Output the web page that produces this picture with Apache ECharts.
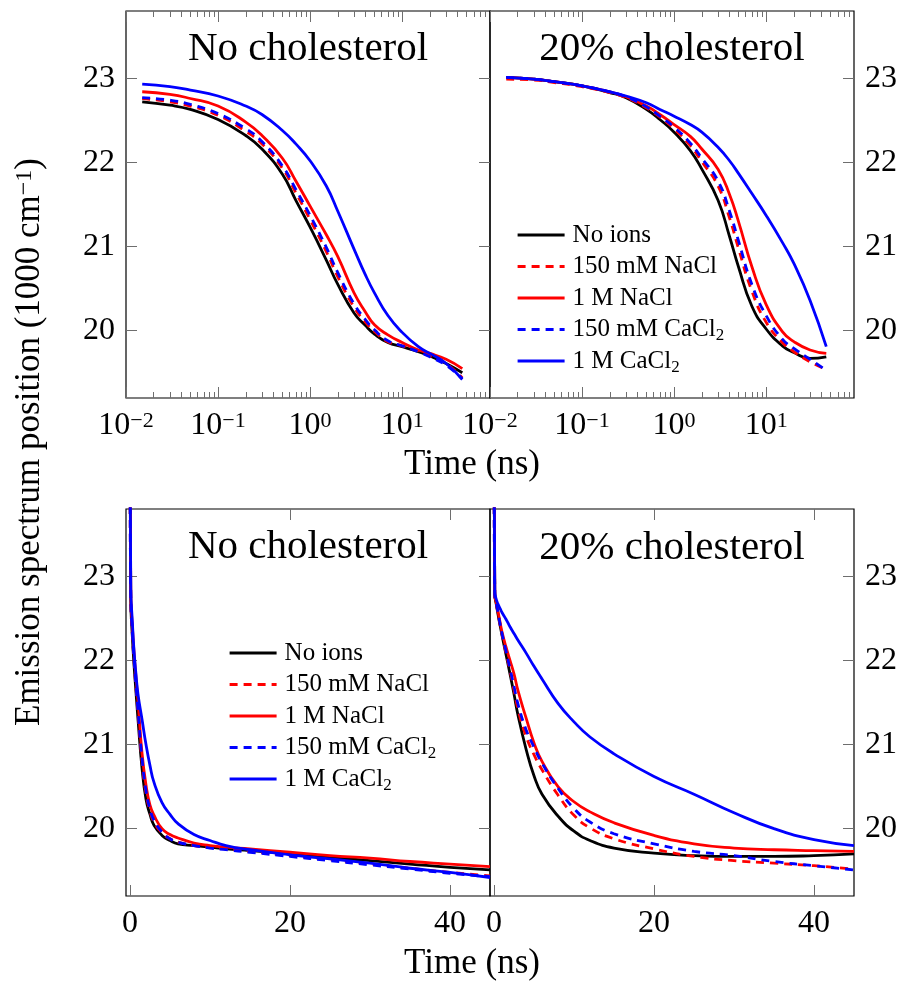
<!DOCTYPE html>
<html><head><meta charset="utf-8">
<script src="https://cdn.jsdelivr.net/npm/echarts@6/dist/echarts.min.js"></script>
<style>html,body{margin:0;padding:0;background:#fff}#c{width:901px;height:981px}</style>
</head><body><div id="c"></div>
<script>
// ---------------- data ----------------
const seriesNames = ['No ions', '150 mM NaCl', '1 M NaCl', '150 mM CaCl2', '1 M CaCl2'];
const panelTitles = ['No cholesterol', '20% cholesterol', 'No cholesterol', '20% cholesterol'];
const xAxisTitle = 'Time (ns)';
const yAxisTitle = 'Emission spectrum position (1000 cm{sup|\u22121})';

// time samples (ns) used in the logarithmic panels
const logTime = [0.015, 0.03, 0.05, 0.1, 0.2, 0.3, 0.5, 0.7, 1, 1.5, 2, 3, 4, 5, 7, 10, 15, 20, 30, 45];
// time samples (ns) used in the linear panels
const linTime = [0, 0.1, 0.3, 0.5, 0.75, 1, 1.5, 2, 2.5, 3, 4, 5, 6, 8, 10, 12, 15, 20, 25, 30, 35, 40, 45];

// top-left: no cholesterol, log time
const logNoCholNoIons   = [22.72, 22.68, 22.63, 22.51, 22.32, 22.16, 21.86, 21.55, 21.23, 20.84, 20.55, 20.21, 20.06, 19.96, 19.86, 19.81, 19.75, 19.70, 19.61, 19.50];
const logNoChol150NaCl  = [22.76, 22.72, 22.67, 22.56, 22.37, 22.22, 21.93, 21.64, 21.32, 20.94, 20.64, 20.28, 20.10, 19.99, 19.87, 19.82, 19.76, 19.70, 19.61, 19.44];
const logNoChol1NaCl    = [22.84, 22.81, 22.76, 22.67, 22.48, 22.32, 22.05, 21.78, 21.48, 21.14, 20.88, 20.45, 20.22, 20.07, 19.95, 19.86, 19.77, 19.73, 19.66, 19.55];
const logNoChol150CaCl2 = [22.77, 22.74, 22.69, 22.58, 22.40, 22.25, 21.96, 21.68, 21.37, 20.99, 20.69, 20.32, 20.13, 20.01, 19.88, 19.82, 19.75, 19.69, 19.59, 19.43];
const logNoChol1CaCl2   = [22.93, 22.90, 22.86, 22.79, 22.67, 22.57, 22.38, 22.22, 22.02, 21.72, 21.42, 20.97, 20.66, 20.45, 20.18, 19.98, 19.81, 19.73, 19.61, 19.42];

// top-right: 20% cholesterol, log time
const logCholNoIons   = [23.01, 22.99, 22.96, 22.91, 22.83, 22.77, 22.63, 22.51, 22.36, 22.14, 21.92, 21.55, 21.12, 20.76, 20.29, 20.02, 19.82, 19.74, 19.67, 19.69];
const logChol150NaCl  = [22.99, 22.98, 22.95, 22.90, 22.83, 22.77, 22.65, 22.54, 22.40, 22.20, 22.01, 21.72, 21.34, 20.98, 20.47, 20.10, 19.86, 19.75, 19.63, 19.54];
const logChol1NaCl    = [23.01, 22.99, 22.96, 22.91, 22.84, 22.78, 22.67, 22.57, 22.45, 22.31, 22.16, 21.92, 21.62, 21.30, 20.76, 20.31, 19.99, 19.87, 19.77, 19.73];
const logChol150CaCl2 = [23.01, 22.99, 22.96, 22.91, 22.84, 22.78, 22.66, 22.55, 22.42, 22.23, 22.05, 21.78, 21.42, 21.07, 20.55, 20.18, 19.90, 19.79, 19.66, 19.53];
const logChol1CaCl2   = [23.01, 22.99, 22.96, 22.91, 22.84, 22.79, 22.71, 22.63, 22.55, 22.45, 22.36, 22.18, 22.02, 21.87, 21.63, 21.37, 21.05, 20.80, 20.36, 19.81];

// bottom-left: no cholesterol, linear time
const linNoCholNoIons   = [24.5, 22.70, 22.27, 21.95, 21.62, 21.30, 20.72, 20.35, 20.17, 20.04, 19.92, 19.86, 19.82, 19.80, 19.78, 19.76, 19.74, 19.70, 19.66, 19.62, 19.58, 19.54, 19.51];
const linNoChol150NaCl  = [24.5, 22.70, 22.30, 22.00, 21.67, 21.37, 20.80, 20.42, 20.21, 20.08, 19.95, 19.88, 19.84, 19.80, 19.78, 19.76, 19.73, 19.68, 19.63, 19.58, 19.53, 19.48, 19.44];
const linNoChol1NaCl    = [24.5, 22.75, 22.40, 22.10, 21.80, 21.52, 20.90, 20.52, 20.28, 20.16, 20.00, 19.93, 19.89, 19.83, 19.80, 19.78, 19.76, 19.72, 19.68, 19.65, 19.61, 19.58, 19.55];
const linNoChol150CaCl2 = [24.5, 22.72, 22.32, 22.02, 21.70, 21.40, 20.84, 20.45, 20.23, 20.10, 19.96, 19.88, 19.84, 19.80, 19.77, 19.75, 19.72, 19.67, 19.62, 19.57, 19.52, 19.47, 19.43];
const linNoChol1CaCl2   = [24.5, 22.85, 22.45, 22.12, 21.83, 21.60, 21.30, 21.00, 20.75, 20.55, 20.31, 20.17, 20.06, 19.93, 19.86, 19.80, 19.75, 19.69, 19.64, 19.59, 19.53, 19.48, 19.42];

// bottom-right: 20% cholesterol, linear time
const linCholNoIons   = [24.5, 22.78, 22.66, 22.55, 22.42, 22.30, 22.07, 21.84, 21.60, 21.35, 20.95, 20.63, 20.41, 20.15, 19.97, 19.86, 19.77, 19.71, 19.68, 19.67, 19.67, 19.68, 19.70];
const linChol150NaCl  = [24.5, 22.78, 22.67, 22.56, 22.43, 22.31, 22.09, 21.88, 21.65, 21.42, 21.10, 20.88, 20.70, 20.40, 20.16, 20.01, 19.88, 19.76, 19.67, 19.62, 19.59, 19.56, 19.52];
const linChol1NaCl    = [24.5, 22.78, 22.68, 22.58, 22.46, 22.34, 22.16, 22.00, 21.84, 21.64, 21.32, 21.02, 20.80, 20.50, 20.32, 20.20, 20.07, 19.92, 19.82, 19.77, 19.75, 19.74, 19.73];
const linChol150CaCl2 = [24.5, 22.78, 22.67, 22.57, 22.44, 22.32, 22.11, 21.90, 21.69, 21.48, 21.18, 20.97, 20.78, 20.48, 20.24, 20.08, 19.94, 19.82, 19.73, 19.68, 19.61, 19.56, 19.51];
const linChol1CaCl2   = [24.5, 22.82, 22.72, 22.67, 22.62, 22.57, 22.49, 22.40, 22.32, 22.24, 22.09, 21.93, 21.78, 21.49, 21.27, 21.09, 20.89, 20.62, 20.41, 20.19, 20.00, 19.87, 19.80];

// tick labels
const logMajorTicks = [0.01, 0.1, 1, 10];
const logMinorMantissa = [2, 3, 4, 5, 6, 7, 8, 9];
const linMajorTicks = [0, 20, 40];
const yTicks = [20, 21, 22, 23];

// ---------------- styles / layout ----------------
const FONT = '"Liberation Serif", "Times New Roman", serif';
const TICK = '#6e6e6e';
const colors = ['#000000', '#ff0000', '#ff0000', '#0000ff', '#0000ff'];
const dashed = [false, true, false, true, false];
const LOG_MIN = 0.01, LOG_MAX = 90;
const LIN_MIN = -0.5, LIN_MAX = 45;
const Y_MIN = 19.2, Y_MAX = 23.8;

const grids = [
  { left: 126, top: 11, width: 364, height: 387 },
  { left: 490, top: 11, width: 364, height: 387 },
  { left: 126, top: 509, width: 364, height: 387 },
  { left: 490, top: 509, width: 364, height: 387 }
].map(g => Object.assign(g, { show: true, borderColor: '#000', borderWidth: 1.2, backgroundColor: 'transparent', containLabel: false, outerBoundsMode: 'none' }));

const minus = n => (n < 0 ? '\u2212' + (-n) : '' + n);

const logMinorVals = [];
[-2, -1, 0, 1].forEach(e => logMinorMantissa.forEach(m => {
  const v = Math.log10(m) + e;
  if (v < Math.log10(LOG_MAX)) logMinorVals.push(v);
}));
const logMajorVals = logMajorTicks.map(v => Math.log10(v));

const xAxes = [];
function addXAxes(gi, isLog) {
  const base = {
    type: 'value', gridIndex: gi,
    min: isLog ? Math.log10(LOG_MIN) : LIN_MIN,
    max: isLog ? Math.log10(LOG_MAX) : LIN_MAX,
    splitLine: { show: false }, axisLine: { show: false, onZero: false },
    axisPointer: { show: false }
  };
  const major = isLog ? logMajorVals : linMajorTicks;
  const tickStyle = { color: TICK, width: 1 };
  const labelCfg = isLog ? {
    customValues: major, margin: 12, color: '#000',
    formatter: v => '{b|10}{sup|' + minus(Math.round(v)) + '}',
    rich: {
      b: { fontFamily: FONT, fontSize: 32, color: '#000' },
      sup: { fontFamily: FONT, fontSize: 22, color: '#000', verticalAlign: 'top', lineHeight: 19 }
    }
  } : { customValues: major, margin: 12, color: '#000', fontFamily: FONT, fontSize: 32 };
  const idx = xAxes.length;
  xAxes.push(Object.assign({}, base, { position: 'bottom', axisTick: { inside: true, length: 11, customValues: major, lineStyle: tickStyle }, axisLabel: labelCfg }));
  xAxes.push(Object.assign({}, base, { position: 'top', axisTick: { inside: true, length: 11, customValues: major, lineStyle: tickStyle }, axisLabel: { show: false } }));
  if (isLog) {
    xAxes.push(Object.assign({}, base, { position: 'bottom', axisTick: { inside: true, length: 6, customValues: logMinorVals, lineStyle: tickStyle }, axisLabel: { show: false } }));
    xAxes.push(Object.assign({}, base, { position: 'top', axisTick: { inside: true, length: 6, customValues: logMinorVals, lineStyle: tickStyle }, axisLabel: { show: false } }));
  }
  return idx;
}
const xIdx = [addXAxes(0, true), addXAxes(1, true), addXAxes(2, false), addXAxes(3, false)];

const yAxes = [];
function addYAxis(gi, position, labels) {
  yAxes.push({
    type: 'value', gridIndex: gi, position, min: Y_MIN, max: Y_MAX,
    splitLine: { show: false }, axisLine: { show: false, onZero: false },
    axisTick: { inside: true, length: 11, customValues: yTicks, lineStyle: { color: TICK, width: 1 } },
    axisLabel: labels ? { customValues: yTicks, margin: 11, color: '#000', fontFamily: FONT, fontSize: 32 } : { show: false }
  });
  return yAxes.length - 1;
}
const yTL = addYAxis(0, 'left', true); addYAxis(0, 'right', false);
const yTR = addYAxis(1, 'right', true);
const yBL = addYAxis(2, 'left', true); addYAxis(2, 'right', false);
const yBR = addYAxis(3, 'right', true);

const panels = [
  { xi: xIdx[0], yi: yTL, time: logTime, log: true, vals: [logNoCholNoIons, logNoChol150NaCl, logNoChol1NaCl, logNoChol150CaCl2, logNoChol1CaCl2] },
  { xi: xIdx[1], yi: yTR, time: logTime, log: true, vals: [logCholNoIons, logChol150NaCl, logChol1NaCl, logChol150CaCl2, logChol1CaCl2] },
  { xi: xIdx[2], yi: yBL, time: linTime, log: false, vals: [linNoCholNoIons, linNoChol150NaCl, linNoChol1NaCl, linNoChol150CaCl2, linNoChol1CaCl2] },
  { xi: xIdx[3], yi: yBR, time: linTime, log: false, vals: [linCholNoIons, linChol150NaCl, linChol1NaCl, linChol150CaCl2, linChol1CaCl2] }
];

const series = [];
panels.forEach(p => {
  p.vals.forEach((vals, k) => {
    series.push({
      type: 'line', name: seriesNames[k], xAxisIndex: p.xi, yAxisIndex: p.yi,
      data: p.time.map((t, i) => [p.log ? Math.log10(t) : t, vals[i]]),
      symbol: 'none', showSymbol: false, smooth: 0.5, clip: true,
      lineStyle: { color: colors[k], width: 2.8, type: dashed[k] ? [8, 6] : 'solid', cap: 'butt' },
      itemStyle: { color: colors[k] },
      emphasis: { disabled: true }, animation: false, silent: true
    });
  });
});

const legendBase = {
  data: seriesNames, orient: 'vertical', itemWidth: 47, itemHeight: 14, itemGap: 1.5, padding: 0,
  selectedMode: false, itemStyle: { opacity: 0 }, lineStyle: { width: 3.2 },
  formatter: n => n.replace(/Cl2$/, 'Cl{sub|2}'),
  textStyle: {
    fontFamily: FONT, fontSize: 25, color: '#000', lineHeight: 30, padding: [0, 0, 0, 3],
    rich: { sub: { fontFamily: FONT, fontSize: 17, color: '#000', verticalAlign: 'bottom', lineHeight: 20 } }
  }
};
const legends = [
  Object.assign({}, legendBase, { left: 516, top: 220 }),
  Object.assign({}, legendBase, { left: 228, top: 638 })
];

const titleCenters = [[308, 49], [672, 49], [308, 547], [672, 548]];
const graphic = titleCenters.map((c, i) => ({
  type: 'text', x: c[0], y: c[1], silent: true,
  style: { text: panelTitles[i], fontFamily: FONT, fontSize: 41, fill: '#000', align: 'center', verticalAlign: 'middle', textAlign: 'center', textVerticalAlign: 'middle' }
}));
[465, 964].forEach(y => graphic.push({
  type: 'text', x: 472, y, silent: true,
  style: { text: xAxisTitle, fontFamily: FONT, fontSize: 35, fill: '#000', align: 'center', verticalAlign: 'middle', textAlign: 'center', textVerticalAlign: 'middle' }
}));
graphic.push({
  type: 'text', x: 30, y: 442, rotation: Math.PI / 2, silent: true,
  style: {
    text: yAxisTitle, fontFamily: FONT, fontSize: 35, fill: '#000', align: 'center', verticalAlign: 'middle', textAlign: 'center', textVerticalAlign: 'middle',
    rich: { sup: { fontFamily: FONT, fontSize: 24, fill: '#000', verticalAlign: 'top', lineHeight: 20 } }
  }
});

const chart = echarts.init(document.getElementById('c'), null, { renderer: 'canvas' });
chart.setOption({
  backgroundColor: '#ffffff',
  animation: false,
  grid: grids,
  xAxis: xAxes,
  yAxis: yAxes,
  legend: legends,
  graphic: graphic,
  series: series
});
</script></body></html>
